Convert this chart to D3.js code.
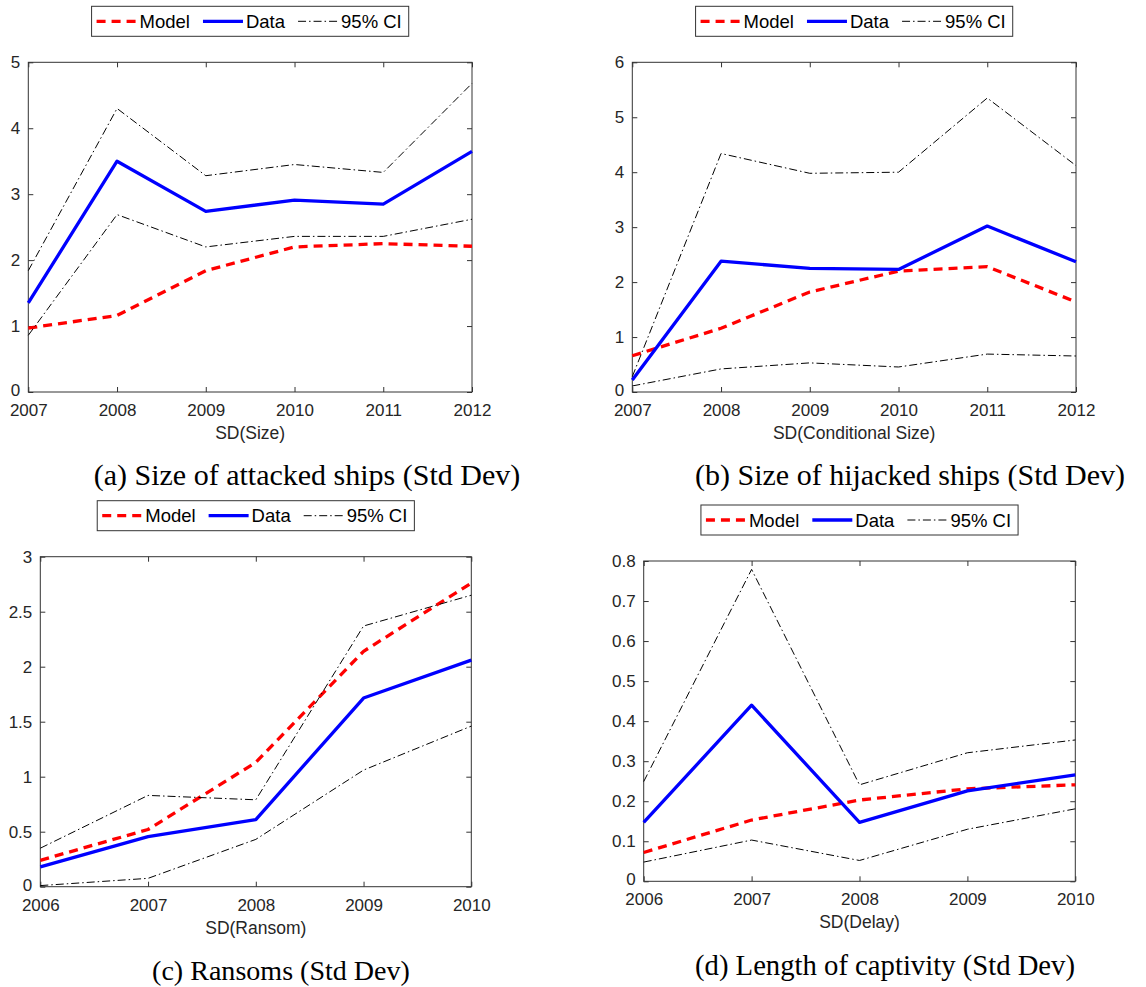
<!DOCTYPE html>
<html>
<head>
<meta charset="utf-8">
<script src="https://cdn.jsdelivr.net/npm/d3@7"></script>
<style>
  body { margin: 0; background: #fff; }
  svg { display: block; }
</style>
</head>
<body>
<svg id="chart" width="1146" height="987"></svg>
<script>
'use strict';

// (a) size of attacked ships
var yearsA = [2007, 2008, 2009, 2010, 2011, 2012],
	modelA = [0.97, 1.16, 1.84, 2.20, 2.25, 2.21],
	dataA = [1.35, 3.50, 2.74, 2.91, 2.85, 3.65],
	ciUpA = [1.84, 4.30, 3.28, 3.45, 3.33, 4.68],
	ciLoA = [0.86, 2.69, 2.20, 2.36, 2.36, 2.62],
	yTicksA = [0, 1, 2, 3, 4, 5];

// (b) size of hijacked ships
var yearsB = [2007, 2008, 2009, 2010, 2011, 2012],
	modelB = [0.66, 1.16, 1.82, 2.20, 2.28, 1.64],
	dataB = [0.22, 2.38, 2.25, 2.23, 3.02, 2.37],
	ciUpB = [0.28, 4.34, 3.98, 4.00, 5.35, 4.12],
	ciLoB = [0.11, 0.42, 0.53, 0.455, 0.69, 0.655],
	yTicksB = [0, 1, 2, 3, 4, 5, 6];

// (c) ransoms
var yearsC = [2006, 2007, 2008, 2009, 2010],
	modelC = [0.24, 0.52, 1.13, 2.14, 2.76],
	dataC = [0.18, 0.455, 0.61, 1.715, 2.06],
	ciUpC = [0.35, 0.83, 0.79, 2.37, 2.65],
	ciLoC = [0.01, 0.076, 0.43, 1.06, 1.46],
	yTicksC = [0, 0.5, 1, 1.5, 2, 2.5, 3];

// (d) length of captivity
var yearsD = [2006, 2007, 2008, 2009, 2010],
	modelD = [0.072, 0.153, 0.203, 0.231, 0.241],
	dataD = [0.147, 0.44, 0.147, 0.226, 0.266],
	ciUpD = [0.249, 0.779, 0.241, 0.321, 0.353],
	ciLoD = [0.048, 0.103, 0.052, 0.130, 0.181],
	yTicksD = [0, 0.1, 0.2, 0.3, 0.4, 0.5, 0.6, 0.7, 0.8];

var legendLabels = ['Model', 'Data', '95% CI'],
	xTitles = ['SD(Size)', 'SD(Conditional Size)', 'SD(Ransom)', 'SD(Delay)'],
	captions = [
		'(a) Size of attacked ships (Std Dev)',
		'(b) Size of hijacked ships (Std Dev)',
		'(c) Ransoms (Std Dev)',
		'(d) Length of captivity (Std Dev)'
	];

//layout of the four panels
var panels = [
	{ years: yearsA, model: modelA, data: dataA, up: ciUpA, lo: ciLoA, yTicks: yTicksA,
		box: [28.3, 62.3, 472, 392], cap: [307, 485, 445] },
	{ years: yearsB, model: modelB, data: dataB, up: ciUpB, lo: ciLoB, yTicks: yTicksB,
		box: [632.3, 62.3, 1076, 392], cap: [910, 485, 436] },
	{ years: yearsC, model: modelC, data: dataC, up: ciUpC, lo: ciLoC, yTicks: yTicksC,
		box: [40.3, 556.7, 471.3, 886.7], cap: [281, 980, 258] },
	{ years: yearsD, model: modelD, data: dataD, up: ciUpD, lo: ciLoD, yTicks: yTicksD,
		box: [643.7, 561, 1075.3, 881.3], cap: [885, 975, 380] }
];

var styles = [
	{ stroke: '#ff0000', width: 3.3, dash: '9,6' },
	{ stroke: '#0000ff', width: 3.3, dash: null },
	{ stroke: '#000000', width: 1, dash: '8,3,1.5,3' }
];

var svg = d3.select('#chart'),
	axisColor = '#333',
	sans = '"Liberation Sans", Arial, sans-serif',
	serif = '"Liberation Serif", "Times New Roman", serif';

svg.append('rect').attr('width', 1146).attr('height', 987).attr('fill', '#fff');

function styleAxis(sel) {
	sel.select('.domain').remove();
	sel.selectAll('line').attr('stroke', axisColor);
	sel.selectAll('text')
		.attr('fill', '#262626')
		.style('font-family', sans)
		.style('font-size', '17px');
}

function drawPanel(p, i) {
	var g = svg.append('g'),
		left = p.box[0], top = p.box[1], right = p.box[2], bottom = p.box[3],
		x = d3.scaleLinear().domain(d3.extent(p.years)).range([left, right]),
		y = d3.scaleLinear().domain([0, d3.max(p.yTicks)]).range([bottom, top]);

	g.append('g').attr('transform', 'translate(0,' + bottom + ')')
		.call(d3.axisBottom(x).tickValues(p.years).tickFormat(d3.format('d'))
			.tickSizeInner(-5).tickSizeOuter(0).tickPadding(12))
		.call(styleAxis);
	g.append('g').attr('transform', 'translate(0,' + top + ')')
		.call(d3.axisTop(x).tickValues(p.years).tickFormat('')
			.tickSizeInner(-5).tickSizeOuter(0))
		.call(styleAxis);
	var yAxis = g.append('g').attr('transform', 'translate(' + left + ',0)')
		.call(d3.axisLeft(y).tickValues(p.yTicks).tickFormat(d3.format('~g'))
			.tickSizeInner(-5).tickSizeOuter(0).tickPadding(8))
		.call(styleAxis);
	//lift the zero label a touch so it clears the first year label
	yAxis.selectAll('.tick text').filter(function(d) { return d === 0; }).attr('dy', '0.2em');
	g.append('g').attr('transform', 'translate(' + right + ',0)')
		.call(d3.axisRight(y).tickValues(p.yTicks).tickFormat('')
			.tickSizeInner(-5).tickSizeOuter(0))
		.call(styleAxis);

	g.append('rect')
		.attr('x', left).attr('y', top)
		.attr('width', right - left).attr('height', bottom - top)
		.attr('fill', 'none').attr('stroke', axisColor).attr('stroke-width', 1);

	var line = d3.line()
		.x(function(d, j) { return x(p.years[j]); })
		.y(function(d) { return y(d); });

	[p.model, p.data, p.up, p.lo].forEach(function(series, k) {
		var s = styles[Math.min(k, 2)];
		g.append('path')
			.datum(series)
			.attr('d', line)
			.attr('fill', 'none')
			.attr('stroke', s.stroke)
			.attr('stroke-width', s.width)
			.attr('stroke-dasharray', s.dash)
			.attr('stroke-linejoin', 'round');
	});

	//axis title
	g.append('text')
		.attr('x', (left + right) / 2).attr('y', bottom + 47)
		.attr('text-anchor', 'middle')
		.attr('fill', '#262626')
		.style('font-family', sans).style('font-size', '17.5px')
		.text(xTitles[i]);

	//legend
	var leg = g.append('g'),
		cursor = 5;
	var frame = leg.append('rect')
		.attr('fill', '#fff').attr('stroke', axisColor).attr('stroke-width', 1);
	legendLabels.forEach(function(label, k) {
		var s = styles[k];
		leg.append('line')
			.attr('x1', cursor).attr('x2', cursor + 40)
			.attr('y1', 15).attr('y2', 15)
			.attr('stroke', s.stroke)
			.attr('stroke-width', s.width)
			.attr('stroke-dasharray', s.dash);
		var t = leg.append('text')
			.attr('x', cursor + 43).attr('y', 21.5)
			.attr('fill', '#000')
			.style('font-family', sans).style('font-size', '18.5px')
			.text(label);
		cursor += 43 + t.node().getComputedTextLength() + (k < 2 ? 13 : 7);
	});
	frame.attr('x', 0).attr('y', 0).attr('width', cursor).attr('height', 30);
	leg.attr('transform', 'translate(' + ((left + right) / 2 - cursor / 2) + ',' + (top - 56) + ')');

	//caption, sized to the reference width
	var cap = g.append('text')
		.attr('x', p.cap[0]).attr('y', p.cap[1])
		.attr('text-anchor', 'middle')
		.attr('fill', '#000')
		.style('font-family', serif).style('font-size', '26px')
		.text(captions[i]);
	var size = 26;
	for (var n = 0; n < 3; n++) {
		size = Math.min(30, size * p.cap[2] / cap.node().getBBox().width);
		cap.style('font-size', size + 'px');
	}
}

panels.forEach(drawPanel);
</script>
</body>
</html>
